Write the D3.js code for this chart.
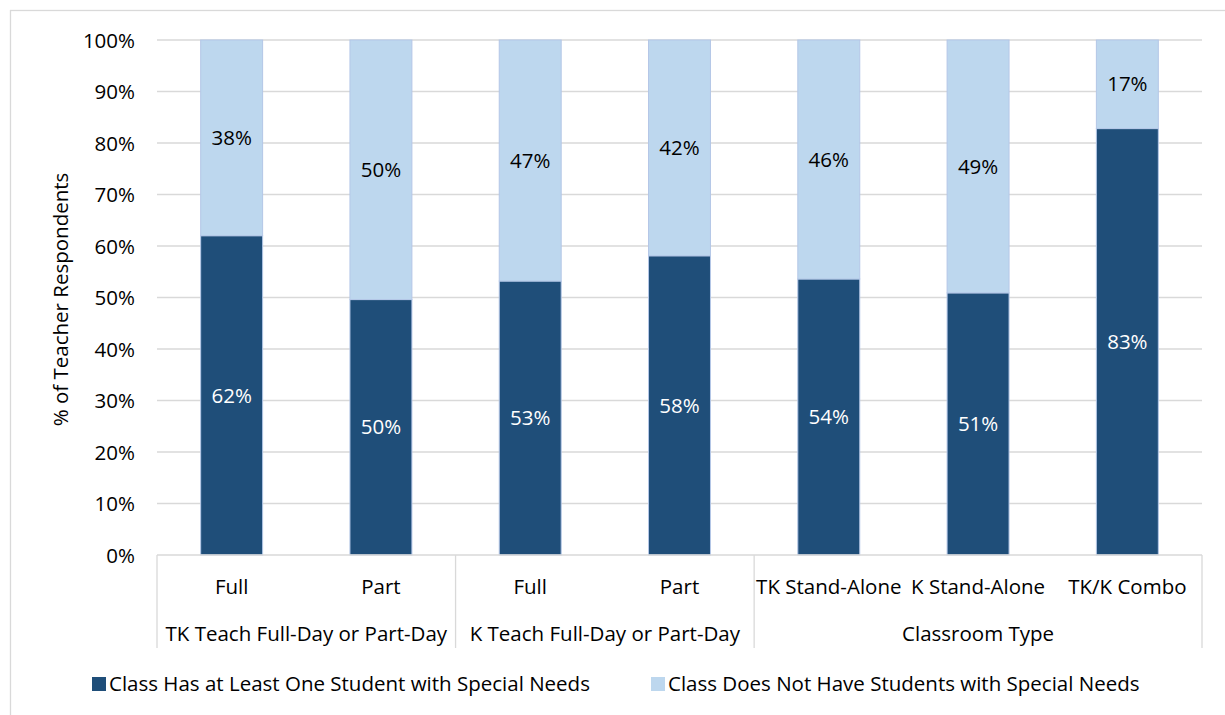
<!DOCTYPE html>
<html>
<head>
<meta charset="utf-8">
<script src="https://cdn.jsdelivr.net/npm/d3@7"></script>
<style>
  html, body { margin: 0; padding: 0; background: #fff; }
  svg { display: block; font-family: "Open Sans", Lato, sans-serif; }
  .grid line { stroke: #d9d9d9; stroke-width: 1.3; }
  .sep { stroke: #d9d9d9; stroke-width: 1.3; }
</style>
</head>
<body>
<div id="chart"></div>
<script>
// ============ data ============
const categories = ['Full', 'Part', 'Full', 'Part', 'TK Stand-Alone', 'K Stand-Alone', 'TK/K Combo'];
const groups = [
  { name: 'TK Teach Full-Day or Part-Day', size: 2 },
  { name: 'K Teach Full-Day or Part-Day', size: 2 },
  { name: 'Classroom Type', size: 3 }
];
const hasNeeds = [62.0, 49.6, 53.2, 58.1, 53.6, 50.9, 82.8];
const noNeeds = hasNeeds.map(v => 100 - v);
const seriesNames = [
  'Class Has at Least One Student with Special Needs',
  'Class Does Not Have Students with Special Needs'
];
const yTicks = [0, 10, 20, 30, 40, 50, 60, 70, 80, 90, 100];

// ============ layout ============
const width = 1225;
const height = 715;
const plot = { left: 157, right: 1202, top: 40, bottom: 555 };
const colors = ['#1f4e79', '#bdd7ee'];
const fontSize = 20.5;
const labelSize = 20.5;

const svg = d3.select('#chart').append('svg')
  .attr('width', width)
  .attr('height', height);

// outer chart border
svg.append('rect')
  .attr('x', 10.5).attr('y', 10.5)
  .attr('width', 1230).attr('height', 720)
  .attr('fill', 'none')
  .attr('stroke', '#d9d9d9')
  .attr('stroke-width', 1.3);

const x = d3.scaleBand()
  .domain(d3.range(categories.length))
  .range([plot.left, plot.right])
  .paddingInner(0.585)
  .paddingOuter(0.2925);

const y = d3.scaleLinear().domain([0, 100]).range([plot.bottom, plot.top]);

// gridlines
svg.append('g')
  .attr('class', 'grid')
  .selectAll('line')
  .data(yTicks.filter(t => t > 0))
  .join('line')
  .attr('x1', plot.left).attr('x2', plot.right)
  .attr('y1', d => y(d)).attr('y2', d => y(d));

// y axis labels
const yAxis = d3.axisLeft(y).tickValues(yTicks).tickFormat(d => d + '%').tickSize(0).tickPadding(22);
const yG = svg.append('g').attr('transform', `translate(${plot.left},0)`).call(yAxis);
yG.select('.domain').remove();
yG.selectAll('text')
  .attr('font-size', fontSize)
  .attr('font-family', '"Open Sans", Lato, sans-serif')
  .attr('fill', '#000')
  .attr('dy', '0.35em');

svg.append('text')
  .attr('transform', `translate(68,${(plot.top + plot.bottom) / 2 + 2}) rotate(-90)`)
  .attr('text-anchor', 'middle')
  .attr('font-size', fontSize)
  .text('% of Teacher Respondents');

// stacked bars
const stackData = categories.map((c, i) => ({ i, has: hasNeeds[i], no: noNeeds[i] }));
const stacked = d3.stack().keys(['has', 'no'])(stackData);

const layer = svg.append('g')
  .selectAll('g')
  .data(stacked)
  .join('g')
  .attr('fill', (d, k) => colors[k]);

layer.selectAll('rect')
  .data(d => d)
  .join('rect')
  .attr('x', d => x(d.data.i))
  .attr('width', x.bandwidth())
  .attr('y', d => y(d[1]))
  .attr('height', d => y(d[0]) - y(d[1]))
  .attr('stroke', '#b4c7e7')
  .attr('stroke-width', 1);

layer.selectAll('text')
  .data(d => d)
  .join('text')
  .attr('x', d => x(d.data.i) + x.bandwidth() / 2)
  .attr('y', d => (y(d[0]) + y(d[1])) / 2)
  .attr('dy', '0.35em')
  .attr('text-anchor', 'middle')
  .attr('font-size', fontSize)
  .attr('fill', (d, k, nodes) => d3.select(nodes[k].parentNode).datum().key === 'has' ? '#fff' : '#000')
  .text(d => Math.round(d[1] - d[0]) + '%');

// x axis line and group separators
svg.append('line')
  .attr('class', 'sep')
  .attr('x1', plot.left).attr('x2', plot.right)
  .attr('y1', plot.bottom).attr('y2', plot.bottom);

const step = x.step();
let start = 0;
const groupPos = groups.map(g => {
  const p = { name: g.name, x0: plot.left + start * step, x1: plot.left + (start + g.size) * step };
  start += g.size;
  return p;
});
const sepX = [plot.left, ...groupPos.map(g => g.x1)];
svg.append('g')
  .selectAll('line')
  .data(sepX)
  .join('line')
  .attr('class', 'sep')
  .attr('x1', d => d).attr('x2', d => d)
  .attr('y1', plot.bottom).attr('y2', 648);

// category labels
svg.append('g')
  .selectAll('text')
  .data(categories)
  .join('text')
  .attr('x', (d, i) => x(i) + x.bandwidth() / 2)
  .attr('y', 594)
  .attr('text-anchor', 'middle')
  .attr('font-size', labelSize)
  .text(d => d);

// group labels
svg.append('g')
  .selectAll('text')
  .data(groupPos)
  .join('text')
  .attr('x', d => (d.x0 + d.x1) / 2)
  .attr('y', 641)
  .attr('text-anchor', 'middle')
  .attr('font-size', labelSize)
  .text(d => d.name);

// legend
const legendItems = [
  { name: seriesNames[0], color: colors[0], x: 92 },
  { name: seriesNames[1], color: colors[1], x: 651 }
];
const lg = svg.append('g')
  .selectAll('g')
  .data(legendItems)
  .join('g')
  .attr('transform', d => `translate(${d.x},684)`);
lg.append('rect')
  .attr('x', 0).attr('y', -7)
  .attr('width', 14).attr('height', 14)
  .attr('fill', d => d.color);
lg.append('text')
  .attr('x', 17)
  .attr('dy', '0.35em')
  .attr('font-size', labelSize)
  .text(d => d.name);
</script>
</body>
</html>
